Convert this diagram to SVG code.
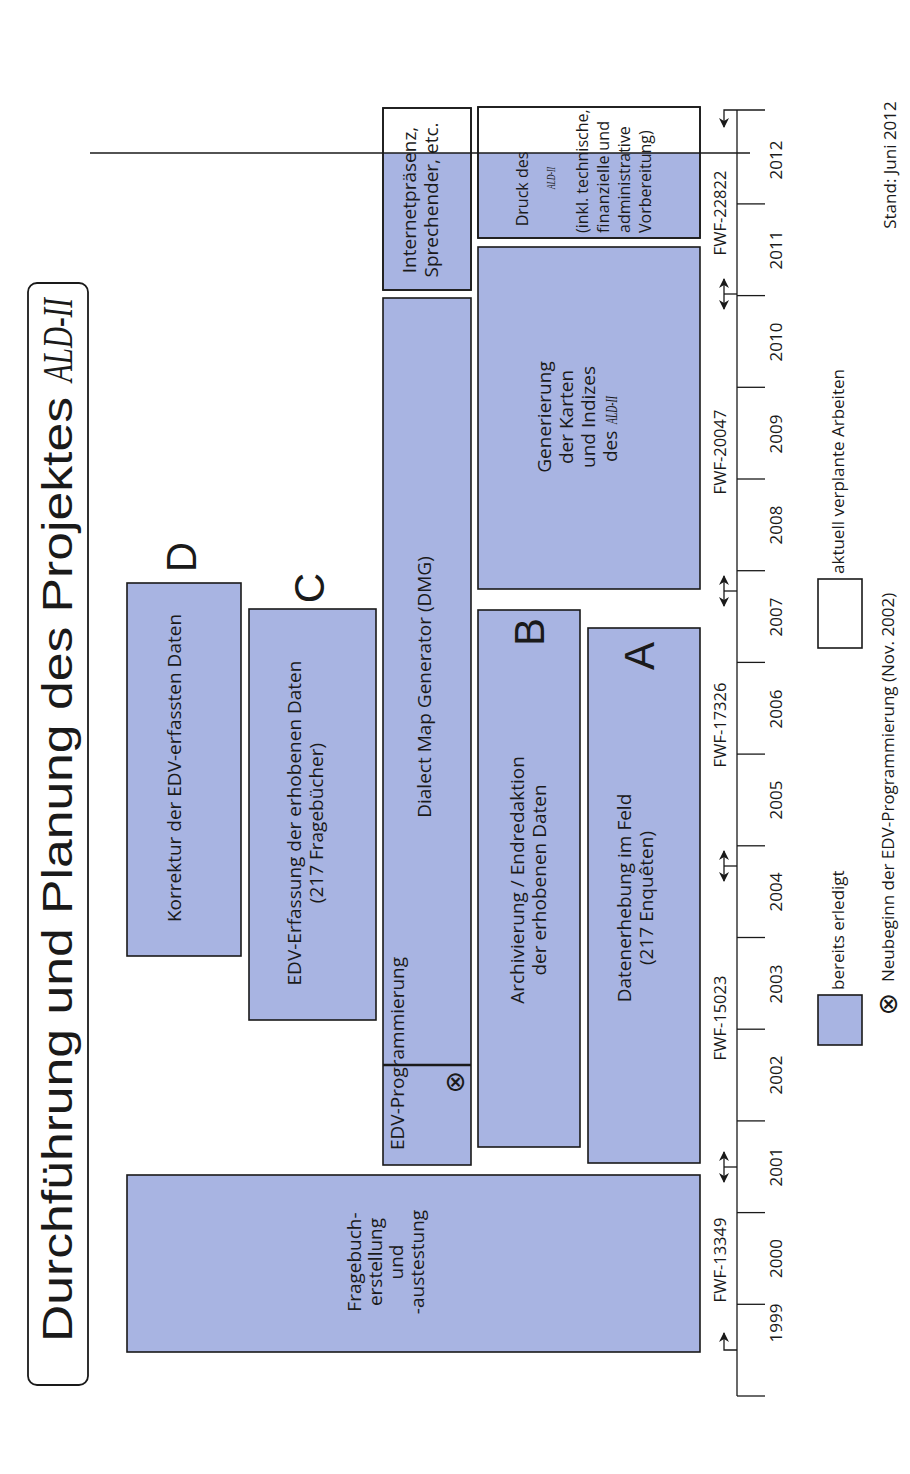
<svg xmlns="http://www.w3.org/2000/svg" width="910" height="1474" viewBox="0 0 910 1474">
<defs>
<style>
.box{fill:#a8b4e2;stroke:#1a1a1a;stroke-width:1.6}
.wbox{fill:#ffffff;stroke:#1a1a1a;stroke-width:1.6}
.bfill{fill:#a8b4e2;stroke:none}
.edge{fill:none;stroke:#1a1a1a;stroke-width:1.6}
.t{font-family:"Open Sans","DejaVu Sans",sans-serif;font-size:19px;fill:#1a1a1a}
.s{font-family:"Open Sans","DejaVu Sans",sans-serif;font-size:16px;fill:#1a1a1a}
.yr{font-family:"Open Sans","DejaVu Sans",sans-serif;font-size:17px;fill:#1a1a1a;text-anchor:middle}
.fwf{font-family:"Open Sans","DejaVu Sans",sans-serif;font-size:16.5px;fill:#1a1a1a;text-anchor:middle}
.lg{font-family:"Open Sans","DejaVu Sans",sans-serif;font-size:17px;fill:#1a1a1a}
.big{font-family:"Liberation Sans",Arial,sans-serif;font-size:42px;fill:#1a1a1a;text-anchor:middle}
.title{font-family:"Liberation Sans Narrow","Liberation Sans",Arial,sans-serif;font-size:42px;fill:#1a1a1a}
.ald{font-family:"Liberation Serif","Times New Roman",serif;font-style:italic}
.sym{font-family:"DejaVu Sans",sans-serif;font-size:27px;fill:#1a1a1a;text-anchor:middle}
.ln{stroke:#1a1a1a;stroke-width:1.3;fill:none}
.mid{text-anchor:middle}
</style>
<marker id="ah" viewBox="0 0 10 10" refX="9" refY="5" markerWidth="10" markerHeight="10" orient="auto-start-reverse" markerUnits="userSpaceOnUse">
<path d="M0,0 L10,5 L0,10 L3,5 Z" fill="#1a1a1a"/>
</marker>
</defs>
<rect width="910" height="1474" fill="#ffffff"/>

<g id="title">
<rect x="28" y="283" width="60" height="1102" rx="9" fill="#ffffff" stroke="#1a1a1a" stroke-width="1.8"/>
<text class="title" transform="rotate(-90)" x="-1342" y="72" textLength="945" lengthAdjust="spacingAndGlyphs">Durchführung und Planung des Projektes</text>
<text class="title ald" transform="rotate(-90)" x="-382" y="72" textLength="84" lengthAdjust="spacingAndGlyphs">ALD-II</text>
</g>

<g id="fragebuch">
<rect class="box" x="127" y="1175" width="573" height="177"/>
<text class="t mid" transform="rotate(-90)"><tspan x="-1262" y="361">Fragebuch-</tspan><tspan x="-1262" y="382">erstellung</tspan><tspan x="-1262" y="403">und</tspan><tspan x="-1262" y="424">-austestung</tspan></text>
</g>

<g id="korrektur">
<rect class="box" x="127" y="583" width="114" height="373"/>
<text class="t mid" transform="rotate(-90)" x="-768" y="181">Korrektur der EDV-erfassten Daten</text>
<text class="big" transform="rotate(-90)" x="-557" y="196">D</text>
</g>

<g id="erfassung">
<rect class="box" x="249" y="609" width="127" height="411"/>
<text class="t mid" transform="rotate(-90)"><tspan x="-823" y="301">EDV-Erfassung der erhobenen Daten</tspan><tspan x="-823" y="323">(217 Fragebücher)</tspan></text>
<text class="big" transform="rotate(-90)" x="-588" y="324">C</text>
</g>

<g id="dmg">
<rect class="box" x="383" y="298" width="88" height="867"/>
<line x1="383" y1="1065" x2="471" y2="1065" stroke="#1a1a1a" stroke-width="2.6"/>
<text class="t mid" transform="rotate(-90)" x="-687" y="431">Dialect Map Generator (DMG)</text>
<text class="t" transform="rotate(-90)" x="-1150" y="404">EDV-Programmierung</text>
<text class="sym" transform="rotate(-90)" x="-1082" y="464">⊗</text>
</g>

<g id="internet">
<rect class="wbox" x="383" y="108" width="88" height="182"/>
<rect class="bfill" x="384" y="153" width="86" height="136"/>
<rect class="edge" x="383" y="108" width="88" height="182"/>
<text class="t mid" transform="rotate(-90)"><tspan x="-200" y="416">Internetpräsenz,</tspan><tspan x="-200" y="438">Sprechender, etc.</tspan></text>
</g>

<g id="druck">
<rect class="wbox" x="478" y="107" width="222" height="131"/>
<rect class="bfill" x="479" y="153" width="220" height="84"/>
<rect class="edge" x="478" y="107" width="222" height="131"/>
<text class="s mid" transform="rotate(-90)" x="-189" y="528">Druck des</text>
<text class="ald" font-size="13" fill="#1a1a1a" transform="rotate(-90)" x="-189" y="555" textLength="22" lengthAdjust="spacingAndGlyphs">ALD-II</text>
<text class="s" transform="rotate(-90)"><tspan x="-233" y="588">(inkl. technische,</tspan><tspan x="-233" y="609" textLength="112" lengthAdjust="spacing">finanzielle und</tspan><tspan x="-233" y="630">administrative</tspan><tspan x="-233" y="651">Vorbereitung)</tspan></text>
</g>

<g id="generierung">
<rect class="box" x="478" y="247" width="222" height="342"/>
<text class="t mid" transform="rotate(-90)"><tspan x="-417" y="551">Generierung</tspan><tspan x="-417" y="573">der Karten</tspan><tspan x="-417" y="595">und Indizes</tspan></text>
<text class="t" transform="rotate(-90)" x="-462" y="617">des</text>
<text class="ald" font-size="16" fill="#1a1a1a" transform="rotate(-90)" x="-424" y="617" textLength="28" lengthAdjust="spacingAndGlyphs">ALD-II</text>
</g>

<g id="archivierung">
<rect class="box" x="478" y="610" width="102" height="537"/>
<text class="t mid" transform="rotate(-90)"><tspan x="-880" y="524">Archivierung / Endredaktion</tspan><tspan x="-880" y="546">der erhobenen Daten</tspan></text>
<text class="big" transform="rotate(-90)" x="-632" y="544">B</text>
</g>

<g id="datenerhebung">
<rect class="box" x="588" y="628" width="112" height="535"/>
<text class="t mid" transform="rotate(-90)"><tspan x="-898" y="631">Datenerhebung im Feld</tspan><tspan x="-898" y="653">(217 Enquêten)</tspan></text>
<text class="big" transform="rotate(-90)" x="-656" y="654">A</text>
</g>

<g id="connectors">
<line class="ln" x1="90" y1="153" x2="750" y2="153"/>
<line class="ln" x1="737" y1="110" x2="737" y2="1396"/>
<line class="ln" x1="737" y1="1396" x2="765" y2="1396"/>
<line class="ln" x1="737" y1="1304.3" x2="765" y2="1304.3"/>
<line class="ln" x1="737" y1="1212.6" x2="765" y2="1212.6"/>
<line class="ln" x1="737" y1="1120.9" x2="765" y2="1120.9"/>
<line class="ln" x1="737" y1="1029.2" x2="765" y2="1029.2"/>
<line class="ln" x1="737" y1="937.5" x2="765" y2="937.5"/>
<line class="ln" x1="737" y1="845.8" x2="765" y2="845.8"/>
<line class="ln" x1="737" y1="754.1" x2="765" y2="754.1"/>
<line class="ln" x1="737" y1="662.4" x2="765" y2="662.4"/>
<line class="ln" x1="737" y1="570.7" x2="765" y2="570.7"/>
<line class="ln" x1="737" y1="479" x2="765" y2="479"/>
<line class="ln" x1="737" y1="387.3" x2="765" y2="387.3"/>
<line class="ln" x1="737" y1="295.6" x2="765" y2="295.6"/>
<line class="ln" x1="737" y1="203.9" x2="765" y2="203.9"/>
<path class="ln" d="M765,110 H724 V127" marker-end="url(#ah)"/>
<path class="ln" d="M737,1350 H724 V1333" marker-end="url(#ah)"/>
<line class="ln" x1="724" y1="1167" x2="737" y2="1167"/>
<line class="ln" x1="724" y1="1152" x2="724" y2="1182" marker-start="url(#ah)" marker-end="url(#ah)"/>
<line class="ln" x1="724" y1="866" x2="737" y2="866"/>
<line class="ln" x1="724" y1="851" x2="724" y2="881" marker-start="url(#ah)" marker-end="url(#ah)"/>
<line class="ln" x1="724" y1="591" x2="737" y2="591"/>
<line class="ln" x1="724" y1="576" x2="724" y2="606" marker-start="url(#ah)" marker-end="url(#ah)"/>
<line class="ln" x1="724" y1="294" x2="737" y2="294"/>
<line class="ln" x1="724" y1="279" x2="724" y2="309" marker-start="url(#ah)" marker-end="url(#ah)"/>
</g>

<g id="timeline-labels">
<text class="fwf" transform="rotate(-90)" x="-1260" y="726">FWF-13349</text>
<text class="fwf" transform="rotate(-90)" x="-1018" y="726">FWF-15023</text>
<text class="fwf" transform="rotate(-90)" x="-725" y="726">FWF-17326</text>
<text class="fwf" transform="rotate(-90)" x="-452" y="726">FWF-20047</text>
<text class="fwf" transform="rotate(-90)" x="-213" y="726">FWF-22822</text>
<text class="yr" transform="rotate(-90)" x="-1323" y="782">1999</text>
<text class="yr" transform="rotate(-90)" x="-1258.5" y="782">2000</text>
<text class="yr" transform="rotate(-90)" x="-1167" y="782">2001</text>
<text class="yr" transform="rotate(-90)" x="-1075" y="782">2002</text>
<text class="yr" transform="rotate(-90)" x="-984" y="782">2003</text>
<text class="yr" transform="rotate(-90)" x="-892" y="782">2004</text>
<text class="yr" transform="rotate(-90)" x="-800" y="782">2005</text>
<text class="yr" transform="rotate(-90)" x="-709" y="782">2006</text>
<text class="yr" transform="rotate(-90)" x="-617" y="782">2007</text>
<text class="yr" transform="rotate(-90)" x="-525" y="782">2008</text>
<text class="yr" transform="rotate(-90)" x="-434" y="782">2009</text>
<text class="yr" transform="rotate(-90)" x="-342" y="782">2010</text>
<text class="yr" transform="rotate(-90)" x="-250" y="782">2011</text>
<text class="yr" transform="rotate(-90)" x="-160" y="782">2012</text>
</g>

<g id="legend">
<rect class="box" x="818" y="995" width="44" height="50"/>
<text class="lg" transform="rotate(-90)" x="-990" y="844">bereits erledigt</text>
<rect class="wbox" x="818" y="579" width="44" height="69"/>
<text class="lg" transform="rotate(-90)" x="-574" y="844">aktuell verplante Arbeiten</text>
<text class="sym" transform="rotate(-90)" x="-1004" y="897">⊗</text>
<text class="lg" transform="rotate(-90)" x="-982" y="894">Neubeginn der EDV-Programmierung (Nov. 2002)</text>
<text class="lg mid" transform="rotate(-90)" x="-165" y="896">Stand: Juni 2012</text>
</g>
</svg>
